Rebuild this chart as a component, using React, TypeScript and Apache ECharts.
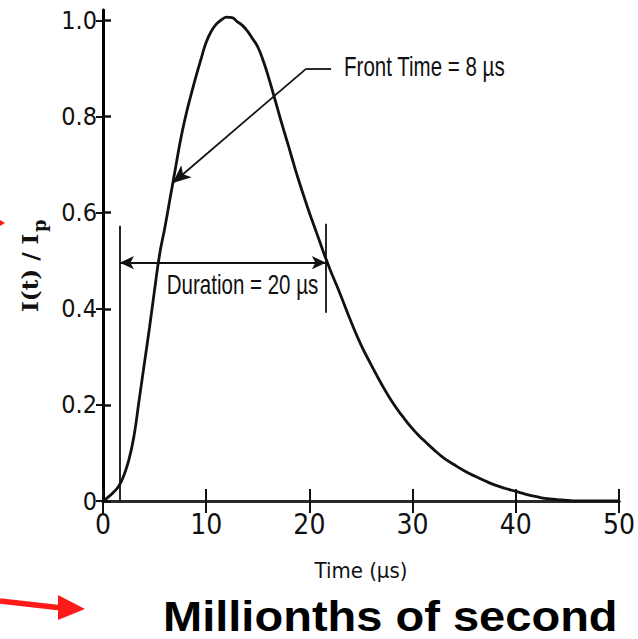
import React, { useEffect, useRef } from "react";
import * as echarts from "echarts";

// Normalized lightning current waveform I(t)/Ip vs time (µs)
const timeUs = [
  0, 0.5, 1, 1.5, 2, 2.5, 3, 3.5, 4, 4.5, 5, 5.5, 6, 6.5, 7, 7.5, 8, 8.5, 9, 9.5,
  10, 10.5, 11, 11.5, 12, 12.5, 13, 13.5, 14, 14.5, 15, 15.5, 16, 16.5, 17, 17.5,
  18, 18.5, 19, 19.5, 20, 20.5, 21, 21.5, 22, 23, 24, 25, 26, 27, 28, 29, 30, 31,
  32, 33, 34, 35, 36, 37, 38, 39, 40, 41, 42, 43, 44, 45, 46, 48, 50,
];
const currentRatio = [
  0, 0.008, 0.018, 0.03, 0.052, 0.085, 0.135, 0.21, 0.285, 0.36, 0.44, 0.515,
  0.57, 0.63, 0.69, 0.75, 0.8, 0.843, 0.883, 0.92, 0.955, 0.978, 0.993, 1.002,
  1.007, 1.006, 0.998, 0.99, 0.978, 0.962, 0.945, 0.918, 0.885, 0.848, 0.81,
  0.773, 0.737, 0.7, 0.665, 0.632, 0.6, 0.57, 0.54, 0.51, 0.482, 0.43, 0.375,
  0.325, 0.283, 0.243, 0.207, 0.177, 0.15, 0.128, 0.108, 0.09, 0.076, 0.063,
  0.052, 0.042, 0.033, 0.026, 0.02, 0.014, 0.009, 0.005, 0.003, 0.001, 0, 0, 0,
];

const xTickValues = [0, 10, 20, 30, 40, 50];
const yTickValues = [0, 0.2, 0.4, 0.6, 0.8, 1.0];

// Annotation anchors in data coordinates [time, ratio]
const durationLeftLine = [[1.64, 0], [1.64, 0.573]];
const durationRightLine = [[21.6, 0.392], [21.6, 0.577]];
const durationArrow = [[1.64, 0.496], [21.6, 0.496]];
const frontLeader = [[22.1, 0.9], [19.7, 0.9]];
const frontArrow = [[19.7, 0.9], [6.76, 0.662]];
const durationTextAnchor = [6.18, 0.45];
const frontTextAnchor = [23.36, 0.904];

const durationText = "Duration = 20 µs";
const frontText = "Front Time = 8 µs";
const xAxisTitle = "Time (µs)";
const yAxisTitleMain = "I(t) / I";
const yAxisTitleSub = "p";
const captionText = "Millionths of second";

const narrow = "'Liberation Sans Narrow', 'DejaVu Sans Condensed', 'Liberation Sans', Arial, sans-serif";
const ink = "#111111";

export default function App() {
  const ref = useRef<HTMLDivElement>(null);

  useEffect(() => {
    if (!ref.current) return;
    const chart = echarts.init(ref.current, undefined, { renderer: "svg" });

    const frameAxis = (w: number, color: string) => ({
      show: true,
      lineStyle: { color, width: w },
    });

    const option: any = {
      animation: false,
      backgroundColor: "#ffffff",
      grid: { left: 103, right: 17, top: 10, bottom: 138, containLabel: false },
      xAxis: [
        {
          type: "value",
          position: "bottom",
          min: 0,
          max: 50,
          interval: 10,
          axisLine: frameAxis(3, "#000"),
          axisTick: {
            show: true,
            inside: true,
            length: 12,
            customValues: xTickValues,
            lineStyle: { color: ink, width: 2 },
          },
          axisLabel: {
            show: true,
            fontSize: 28,
            fontFamily: narrow,
            color: ink,
            margin: 9,
            customValues: xTickValues,
            formatter: (v: number) => String(v),
          },
          splitLine: { show: false },
          name: xAxisTitle,
          nameLocation: "middle",
          nameGap: 58,
          nameTextStyle: { fontSize: 22, fontFamily: narrow, color: ink },
        },
        {
          type: "value",
          position: "top",
          min: 0,
          max: 50,
          interval: 10,
          axisLine: frameAxis(3, "#2a2a2a"),
          axisTick: { show: true, inside: true, length: 12, lineStyle: { color: ink, width: 2 } },
          axisLabel: { show: false },
          splitLine: { show: false },
        },
      ],
      yAxis: [
        {
          type: "value",
          position: "left",
          min: 0,
          max: 1.022,
          axisLine: frameAxis(3, "#000"),
          axisTick: {
            show: true,
            inside: true,
            length: 8,
            customValues: yTickValues,
            lineStyle: { color: ink, width: 2.5 },
          },
          axisLabel: {
            show: true,
            customValues: yTickValues,
            fontSize: 25,
            fontFamily: narrow,
            color: ink,
            margin: 6,
            formatter: (v: number) => (v === 0 ? "0" : v.toFixed(1)),
          },
          splitLine: { show: false },
        },
        {
          type: "value",
          position: "right",
          min: 0,
          max: 1.022,
          axisLine: frameAxis(2.5, "#000"),
          axisTick: {
            show: true,
            inside: true,
            length: 7,
            customValues: yTickValues,
            lineStyle: { color: ink, width: 2 },
          },
          axisLabel: { show: false },
          splitLine: { show: false },
        },
      ],
      series: [
        {
          type: "line",
          xAxisIndex: 0,
          yAxisIndex: 0,
          data: timeUs.map((t, i) => [t, currentRatio[i]]),
          showSymbol: false,
          smooth: 0.5,
          lineStyle: { color: ink, width: 2.8 },
          silent: true,
          markLine: {
            silent: true,
            symbol: ["none", "none"],
            symbolSize: [10, 14],
            label: { show: false },
            lineStyle: { color: ink, width: 1.8, type: "solid" },
            emphasis: { disabled: true },
            data: [
              [{ coord: durationLeftLine[0] }, { coord: durationLeftLine[1] }],
              [{ coord: durationRightLine[0] }, { coord: durationRightLine[1] }],
              [
                { coord: durationArrow[0], symbol: "arrow", symbolSize: [10, 14] },
                { coord: durationArrow[1], symbol: "arrow", symbolSize: [10, 14] },
              ],
              [{ coord: frontLeader[0] }, { coord: frontLeader[1] }],
              [
                { coord: frontArrow[0] },
                { coord: frontArrow[1], symbol: "arrow", symbolSize: [12, 18] },
              ],
            ],
          },
        },
      ],
    };

    chart.setOption(option);

    const px = (p: number[]) => chart.convertToPixel({ gridIndex: 0 }, p) as number[];
    const dPos = px(durationTextAnchor);
    const fPos = px(frontTextAnchor);

    chart.setOption({
      graphic: [
        {
          type: "text",
          x: dPos[0],
          y: dPos[1],
          scaleX: 0.76,
          silent: true,
          style: {
            text: durationText,
            fontSize: 27,
            fontFamily: "'Liberation Sans', Arial, sans-serif",
            fill: ink,
            align: "left",
            verticalAlign: "middle",
          },
        },
        {
          type: "text",
          x: fPos[0],
          y: fPos[1],
          scaleX: 0.76,
          silent: true,
          style: {
            text: frontText,
            fontSize: 27,
            fontFamily: "'Liberation Sans', Arial, sans-serif",
            fill: ink,
            align: "left",
            verticalAlign: "middle",
          },
        },
        {
          type: "group",
          x: 29,
          y: 312,
          rotation: Math.PI / 2,
          silent: true,
          children: [
            {
              type: "text",
              x: 0,
              y: 0,
              style: {
                text: yAxisTitleMain,
                fontSize: 23,
                fontWeight: "bold",
                fontFamily: "'DejaVu Serif', 'Liberation Serif', serif",
                fill: ink,
                align: "left",
                verticalAlign: "middle",
              },
            },
            {
              type: "text",
              x: 80,
              y: 10,
              style: {
                text: yAxisTitleSub,
                fontSize: 18,
                fontWeight: "bold",
                fontFamily: "'DejaVu Serif', 'Liberation Serif', serif",
                fill: ink,
                align: "left",
                verticalAlign: "middle",
              },
            },
          ],
        },
        {
          type: "text",
          x: 163,
          y: 616,
          scaleX: 1.12,
          silent: true,
          style: {
            text: captionText,
            fontSize: 42,
            fontWeight: "bold",
            fontFamily: "'Liberation Sans', Arial, sans-serif",
            fill: "#000",
            align: "left",
            verticalAlign: "middle",
          },
        },
        {
          type: "line",
          silent: true,
          shape: { x1: 0, y1: 601, x2: 62, y2: 608 },
          style: { stroke: "#ff1a1a", lineWidth: 5.5 },
        },
        {
          type: "polygon",
          silent: true,
          shape: { points: [[58, 595], [58, 620], [85, 609]] },
          style: { fill: "#ff1a1a" },
        },
        {
          type: "polygon",
          silent: true,
          shape: { points: [[0, 220], [5, 223], [0, 226]] },
          style: { fill: "#ff1a1a" },
        },
      ],
    });

    return () => chart.dispose();
  }, []);

  return (
    <div
      ref={ref}
      style={{ position: "fixed", left: 0, top: 0, width: 638, height: 639, background: "#fff" }}
    />
  );
}
